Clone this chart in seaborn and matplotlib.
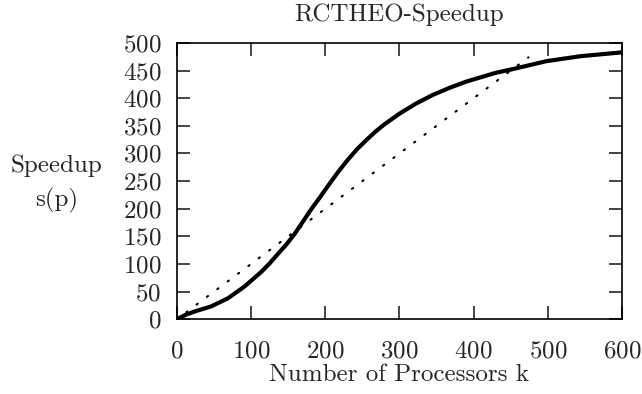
import seaborn as sns
import matplotlib.pyplot as plt
import numpy as np
import pandas as pd

procs = [0, 12, 24, 46, 69, 91, 114, 125, 136, 148, 159, 170, 181, 193, 204,
         217, 230, 243, 256, 268, 280, 300, 322, 345, 368, 390, 430, 454, 498,
         544, 600]
speedup = [0, 8, 14, 23, 38, 59, 86, 101, 118, 136, 155, 177, 199, 221, 242,
           266, 288, 308, 325, 340, 353, 372, 390, 406, 419, 430, 446, 453, 467,
           476, 483]

# ideal linear speedup
ideal_k = [0, 474]
ideal_s = [0, 474]

df = pd.DataFrame({"k": procs, "s": speedup})
df_ideal = pd.DataFrame({"k": ideal_k, "s": ideal_s})

sns.set_style("ticks")
plt.rcParams['font.family'] = ['cmr10', 'DejaVu Serif']
plt.rcParams['axes.formatter.use_mathtext'] = True
plt.rcParams['font.size'] = 18

fig = plt.figure(figsize=(6.42, 3.94), dpi=100)
ax = fig.add_axes([0.2757, 0.190, 0.6931, 0.701])

sns.lineplot(data=df_ideal, x="k", y="s", ax=ax, color="black",
             linewidth=1.5, linestyle=(0.7, (0.7, 5.5)), dash_capstyle="round")
sns.lineplot(data=df, x="k", y="s", ax=ax, color="black", linewidth=3.0)

ax.set_xlim(0, 600)
ax.set_ylim(0, 500)
ax.set_xticks(np.arange(0, 601, 100))
ax.set_yticks(np.arange(0, 501, 50))
ax.tick_params(direction="in", length=9.5, width=1.2, top=True, right=True,
               labelsize=18)
ax.tick_params(axis="x", pad=15)
ax.tick_params(axis="y", pad=11.5)
for sp in ax.spines.values():
    sp.set_linewidth(1.2)
    sp.set_color("black")

ax.set_title("RCTHEO-Speedup", fontsize=18, pad=16)
ax.set_xlabel("Number of Processors k", fontsize=18, labelpad=1.5)
ax.set_ylabel("Speedup\ns(p)", fontsize=18, rotation=0, linespacing=1.6,
              ha="center", va="center")
ax.yaxis.set_label_coords(-0.27, 0.49)

fig.savefig("out.png", dpi=100)
